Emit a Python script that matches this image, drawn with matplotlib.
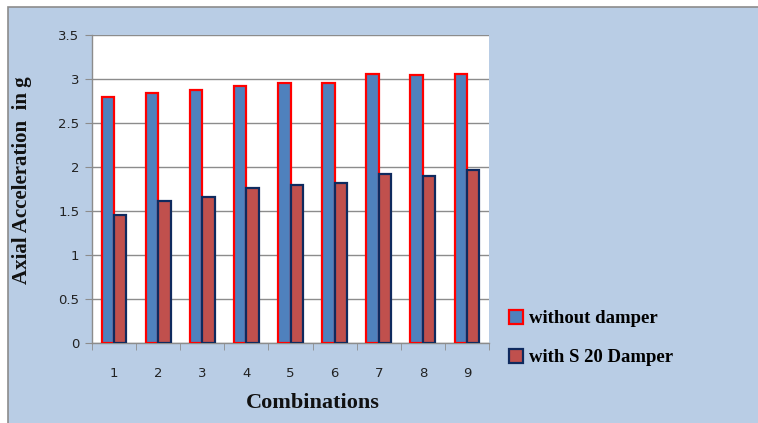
import matplotlib
matplotlib.use("Agg")
import matplotlib.pyplot as plt
import numpy as np
from matplotlib.patches import Rectangle, Patch

combinations = ["1", "2", "3", "4", "5", "6", "7", "8", "9"]
without_damper = [2.79, 2.84, 2.88, 2.92, 2.96, 2.96, 3.06, 3.04, 3.06]
with_s20_damper = [1.45, 1.61, 1.66, 1.76, 1.79, 1.82, 1.92, 1.90, 1.97]
y_ticks = [0, 0.5, 1, 1.5, 2, 2.5, 3, 3.5]

W, H = 758, 423
fig = plt.figure(figsize=(W / 100, H / 100), dpi=100)
fig.patch.set_facecolor("white")
fig.patches.append(Rectangle((8 / W, -0.1), 1.2, 1.1 - 7 / H, transform=fig.transFigure,
                             facecolor="#B9CDE5", edgecolor="#8C8C8C", linewidth=1.2, zorder=-10))

ax = fig.add_axes([92 / W, (H - 343) / H, 397 / W, 308 / H])
ax.set_facecolor("white")

x = np.arange(len(combinations))
bw = 0.28
ax.bar(x - bw / 2, without_damper, bw, color="#4F81BD", edgecolor="#FF0000", linewidth=1.6, zorder=3)
ax.bar(x + bw / 2, with_s20_damper, bw, color="#C0504D", edgecolor="#0F2A5E", linewidth=1.6, zorder=3)

ax.set_xlim(-0.5, len(combinations) - 0.5)
ax.set_ylim(0, 3.5)
ax.set_yticks(y_ticks)
ax.set_yticklabels([f"{t:g}" for t in y_ticks], fontsize=9.5, color="#222222")
ax.set_xticks(x)
ax.set_xticklabels(combinations, fontsize=9.5, color="#222222")
ax.set_xticks(np.arange(len(combinations) + 1) - 0.5, minor=True)
ax.tick_params(axis="x", which="major", length=0, pad=17)
ax.tick_params(axis="x", which="minor", length=5, color="#8C8C8C", direction="out")
ax.tick_params(axis="y", length=5, color="#8C8C8C", direction="out", pad=4)

ax.grid(axis="y", color="#8C8C8C", linewidth=1.0, zorder=0)
for side in ["top", "right"]:
    ax.spines[side].set_visible(False)
for side in ["left", "bottom"]:
    ax.spines[side].set_color("#8C8C8C")
    ax.spines[side].set_linewidth(1.0)

serif = {"family": "Liberation Serif", "weight": "bold"}
fig.text(313 / W, 1 - 403 / H, "Combinations", fontdict=serif, fontsize=16,
         ha="center", va="center", color="#111111")
fig.text(22 / W, 1 - 180 / H, "Axial Acceleration  in g", fontdict=serif, fontsize=15,
         ha="center", va="center", rotation=90, color="#111111")

handles = [
    Patch(facecolor="#4F81BD", edgecolor="#FF0000", linewidth=1.6),
    Patch(facecolor="#C0504D", edgecolor="#0F2A5E", linewidth=1.6),
]
fig.legend(handles, ["without damper", "with S 20 Damper"], loc="upper left",
           bbox_to_anchor=(492 / W, 1 - 293 / H), frameon=False,
           prop={"family": "Liberation Serif", "weight": "bold", "size": 13.5},
           handlelength=0.75, handleheight=0.75, handletextpad=0.3, labelspacing=1.15)

fig.savefig("out.png", dpi=100)
